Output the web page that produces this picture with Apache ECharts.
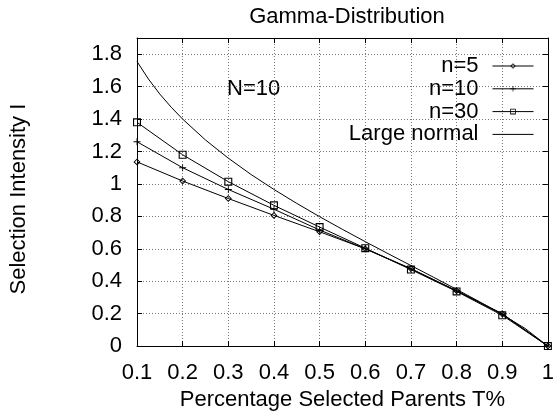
<!DOCTYPE html>
<html>
<head>
<meta charset="utf-8">
<script src="https://cdn.jsdelivr.net/npm/echarts@6/dist/echarts.min.js"></script>
<style>
  html, body { margin: 0; padding: 0; background: #fff; }
  #chart { width: 557px; height: 416px; }
</style>
</head>
<body>
<div id="chart"></div>
<script>
// Proportion of parents selected (truncation fraction)
const parentFractions = [0.1, 0.2, 0.3, 0.4, 0.5, 0.6, 0.7, 0.8, 0.9, 1.0];

// Selection intensity for finite sample sizes
const intensityN5  = [1.136, 1.018, 0.910, 0.806, 0.705, 0.600, 0.478, 0.342, 0.200, 0];
const intensityN10 = [1.260, 1.100, 0.966, 0.844, 0.716, 0.600, 0.476, 0.340, 0.197, 0];
const intensityN30 = [1.380, 1.180, 1.014, 0.868, 0.734, 0.604, 0.472, 0.337, 0.190, 0];

// Large-population (normal) curve, sampled finer
const normalFractions = [0.1, 0.125, 0.15, 0.175, 0.2, 0.25, 0.3, 0.35, 0.4, 0.45, 0.5,
                         0.55, 0.6, 0.65, 0.7, 0.75, 0.8, 0.85, 0.9, 0.95, 1.0];
const intensityNormal = [1.755, 1.647, 1.554, 1.473, 1.400, 1.271, 1.159, 1.058, 0.966, 0.880, 0.798,
                         0.720, 0.644, 0.570, 0.497, 0.424, 0.350, 0.274, 0.195, 0.109, 0];

const seriesNames = ['n=5', 'n=10', 'n=30', 'Large normal'];
const xTicks = { min: 0.1, max: 1.0, step: 0.1 };
const yTicks = { min: 0, max: 1.9, step: 0.2 };

const pairs = (xs, ys) => xs.map((x, i) => [x, ys[i]]);
const fmt = v => String(+(+v).toFixed(1));

const FONT = "'Liberation Sans', Arial, Helvetica, sans-serif";
const FS = 22;

// Outline markers built as rings (outer contour clockwise, inner counter-clockwise)
const diamondRing = 'path://M5,0 L10,5 L5,10 L0,5 Z M5,1.9 L1.9,5 L5,8.1 L8.1,5 Z';
const squareRing = 'path://M0,0 H10 V10 H0 Z M1.4,1.4 V8.6 H8.6 V1.4 Z';
const plusMark = 'path://M4.4,0 h1.2 v4.4 h4.4 v1.2 h-4.4 v4.4 h-1.2 v-4.4 h-4.4 v-1.2 h4.4 z';

const tickStyle = { show: true, inside: true, length: 5, lineStyle: { color: '#000', width: 1 } };
const lineStyleBase = { color: '#000', width: 1 };

const chart = echarts.init(document.getElementById('chart'), null, { renderer: 'canvas' });

chart.setOption({
  animation: false,
  backgroundColor: '#fff',
  textStyle: { fontFamily: FONT, color: '#000' },
  title: {
    text: 'Gamma-Distribution',
    left: 342,
    textAlign: 'center',
    top: 1,
    textStyle: { fontFamily: FONT, fontSize: FS, fontWeight: 'normal', color: '#000' }
  },
  grid: { left: 133, right: 5, top: 38, bottom: 61, containLabel: false },
  legend: {
    orient: 'vertical',
    align: 'right',
    right: 23,
    top: 55,
    padding: 0,
    itemGap: 0.8,
    itemWidth: 41,
    itemHeight: 7,
    selectedMode: false,
    lineStyle: { width: 1 },
    data: [
      seriesNames[0],
      seriesNames[1],
      seriesNames[2],
      { name: seriesNames[3], itemStyle: { opacity: 0 } }
    ],
    textStyle: { fontFamily: FONT, fontSize: FS, color: '#000', padding: [0, 9, 0, 0] }
  },
  graphic: [{
    type: 'text',
    left: 227,
    top: 78,
    style: { text: 'N=10', font: `${FS}px ${FONT}`, fill: '#000' }
  }],
  xAxis: [{
    type: 'value',
    position: 'bottom',
    min: xTicks.min, max: xTicks.max, interval: xTicks.step,
    name: 'Percentage Selected Parents T%',
    nameLocation: 'middle',
    nameGap: 42,
    nameTextStyle: { fontFamily: FONT, fontSize: FS, color: '#000' },
    axisLine: { show: true, onZero: false, lineStyle: lineStyleBase },
    axisTick: tickStyle,
    axisLabel: { fontFamily: FONT, fontSize: FS, color: '#000', margin: 16, formatter: fmt },
    splitLine: { show: true, lineStyle: { color: '#777', type: [1, 2], width: 1 } }
  }, {
    type: 'value',
    position: 'top',
    min: xTicks.min, max: xTicks.max, interval: xTicks.step,
    axisLine: { show: true, onZero: false, lineStyle: lineStyleBase },
    axisTick: tickStyle,
    axisLabel: { show: false },
    splitLine: { show: false }
  }],
  yAxis: [{
    type: 'value',
    position: 'left',
    min: yTicks.min, max: yTicks.max, interval: yTicks.step,
    name: 'Selection Intensity I',
    nameLocation: 'middle',
    nameGap: 107,
    nameTextStyle: { fontFamily: FONT, fontSize: FS, color: '#000', padding: [0, 14, 0, 0] },
    axisLine: { show: true, onZero: false, lineStyle: lineStyleBase },
    axisTick: tickStyle,
    axisLabel: { fontFamily: FONT, fontSize: FS, color: '#000', margin: 15, showMaxLabel: false, formatter: fmt },
    splitLine: { show: true, lineStyle: { color: '#777', type: [1, 2], width: 1 } }
  }, {
    type: 'value',
    position: 'right',
    min: yTicks.min, max: yTicks.max, interval: yTicks.step,
    axisLine: { show: true, onZero: false, lineStyle: lineStyleBase },
    axisTick: tickStyle,
    axisLabel: { show: false },
    splitLine: { show: false }
  }],
  series: [{
    name: seriesNames[0],
    type: 'line',
    data: pairs(parentFractions, intensityN5),
    symbol: diamondRing,
    symbolSize: 7,
    showAllSymbol: true,
    lineStyle: lineStyleBase,
    itemStyle: { color: '#000' },
    z: 3
  }, {
    name: seriesNames[1],
    type: 'line',
    data: pairs(parentFractions, intensityN10),
    symbol: plusMark,
    symbolSize: 7,
    showAllSymbol: true,
    lineStyle: lineStyleBase,
    itemStyle: { color: '#000' },
    z: 3
  }, {
    name: seriesNames[2],
    type: 'line',
    data: pairs(parentFractions, intensityN30),
    symbol: squareRing,
    symbolSize: 8,
    showAllSymbol: true,
    lineStyle: lineStyleBase,
    itemStyle: { color: '#000' },
    z: 3
  }, {
    name: seriesNames[3],
    type: 'line',
    data: pairs(normalFractions, intensityNormal),
    symbol: 'none',
    lineStyle: lineStyleBase,
    itemStyle: { color: '#000' },
    z: 3
  }]
});
</script>
</body>
</html>
